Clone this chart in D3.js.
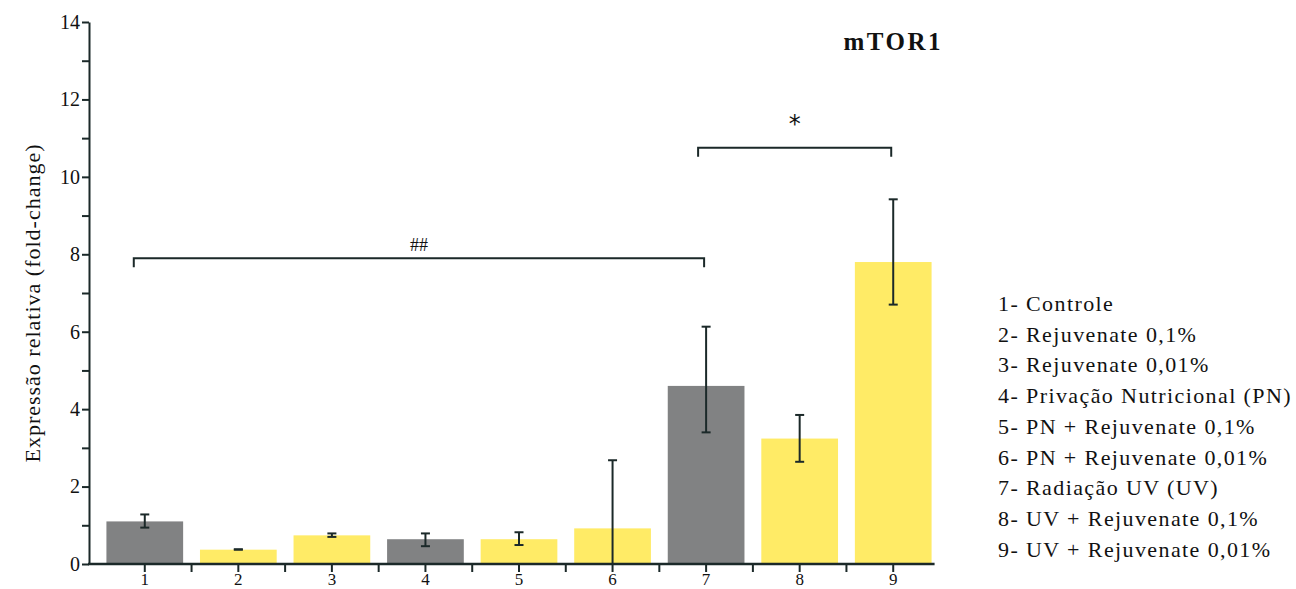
<!DOCTYPE html>
<html>
<head>
<meta charset="utf-8">
<script src="https://cdn.jsdelivr.net/npm/d3@7"></script>
<style>
  body { margin: 0; background: #fff; }
  text { font-family: "Liberation Serif", "Times New Roman", serif; fill: #111; }
</style>
</head>
<body>
<div id="chart-area"></div>
<script>
// data
let groups = ["1", "2", "3", "4", "5", "6", "7", "8", "9"];
let means = [1.1, 0.37, 0.74, 0.64, 0.64, 0.92, 4.6, 3.24, 7.8];
let errLow = [0.94, 0.37, 0.7, 0.46, 0.49, 0, 3.4, 2.64, 6.7];
let errHigh = [1.28, 0.38, 0.79, 0.79, 0.82, 2.68, 6.13, 3.85, 9.42];
let groupKind = ["c", "t", "t", "c", "t", "t", "c", "t", "t"];
let legendLabels = [
  "1- Controle",
  "2- Rejuvenate 0,1%",
  "3- Rejuvenate 0,01%",
  "4- Privação Nutricional (PN)",
  "5- PN + Rejuvenate 0,1%",
  "6- PN + Rejuvenate 0,01%",
  "7- Radiação UV (UV)",
  "8- UV + Rejuvenate 0,1%",
  "9- UV + Rejuvenate 0,01%"
];
let yTicks = d3.range(0, 15, 1);
let brackets = [
  { from: "1", to: "7", level: 7.9, label: "##" },
  { from: "7", to: "9", level: 10.75, label: "*" }
];

let W = 1296, H = 589;
let axisColor = "#1b2929";
let serif = "'Liberation Serif', 'Times New Roman', serif";

let svg = d3.select("#chart-area").append("svg")
  .attr("width", W)
  .attr("height", H);

let y = d3.scaleLinear().domain([0, 14]).range([564, 22]);
let x = d3.scaleBand()
  .domain(groups)
  .range([98, 940])
  .paddingInner(0.18)
  .paddingOuter(0.09);

let color = d3.scaleOrdinal().domain(["c", "t"]).range(["#818283", "#ffeb66"]);

let rows = groups.map((g, i) => ({
  g: g, mean: means[i], lo: errLow[i], hi: errHigh[i], kind: groupKind[i]
}));

// bars
svg.append("g")
  .selectAll("rect")
  .data(rows)
  .enter()
  .append("rect")
  .attr("x", d => x(d.g))
  .attr("width", x.bandwidth())
  .attr("y", d => y(d.mean))
  .attr("height", d => y(0) - y(d.mean))
  .attr("fill", d => color(d.kind));

// error bars
let eb = svg.append("g")
  .attr("stroke", axisColor)
  .attr("stroke-width", 2);
let cx = d => x(d.g) + x.bandwidth() / 2;
eb.selectAll("line.v").data(rows).enter().append("line")
  .attr("class", "v")
  .attr("x1", cx).attr("x2", cx)
  .attr("y1", d => y(d.lo)).attr("y2", d => y(d.hi));
eb.selectAll("line.top").data(rows).enter().append("line")
  .attr("class", "top")
  .attr("x1", d => cx(d) - 4.5).attr("x2", d => cx(d) + 4.5)
  .attr("y1", d => y(d.hi)).attr("y2", d => y(d.hi));
eb.selectAll("line.bot").data(rows.filter(d => d.lo > 0)).enter().append("line")
  .attr("class", "bot")
  .attr("x1", d => cx(d) - 4.5).attr("x2", d => cx(d) + 4.5)
  .attr("y1", d => y(d.lo)).attr("y2", d => y(d.lo));

// y axis
let yAxis = d3.axisLeft(y)
  .tickValues(yTicks)
  .tickSize(7)
  .tickSizeOuter(0)
  .tickPadding(2)
  .tickFormat(d => (d % 2 === 0 ? d : ""));

let yG = svg.append("g")
  .attr("transform", "translate(89,0)")
  .call(yAxis)
  .attr("font-family", serif)
  .attr("font-size", 20);
yG.selectAll("path, line").attr("stroke", axisColor).attr("stroke-width", 2);
yG.selectAll("text").attr("fill", "#111");

// x axis (labels sit at the bottom edge, as in the source figure)
let xAxis = d3.axisBottom(x).tickSize(8).tickPadding(1);
let xG = svg.append("g")
  .attr("transform", "translate(0,564)")
  .call(xAxis)
  .attr("font-family", serif)
  .attr("font-size", 17);
xG.select(".domain").remove();
xG.selectAll("line").attr("stroke", axisColor).attr("stroke-width", 2);
xG.selectAll("text").attr("fill", "#111").attr("dy", "0.68em");

// boundary ticks between groups
let step = x.step();
let bounds = groups.slice(1).map(g => x(g) - step * x.paddingInner() / 2);
xG.selectAll("line.bound").data(bounds).enter().append("line")
  .attr("class", "bound")
  .attr("x1", d => d).attr("x2", d => d)
  .attr("y1", 0).attr("y2", 8)
  .attr("stroke", axisColor).attr("stroke-width", 2);

xG.append("line")
  .attr("x1", 88).attr("x2", x("9") + x.bandwidth() + 3)
  .attr("y1", 0).attr("y2", 0)
  .attr("stroke", axisColor).attr("stroke-width", 2.5);

// y label
svg.append("text")
  .attr("transform", "translate(40," + (y(7) + 10) + ") rotate(-90)")
  .attr("text-anchor", "middle")
  .style("font-size", "22px")
  .style("letter-spacing", "1px")
  .text("Expressão relativa (fold-change)");

// title
svg.append("text")
  .attr("x", x("9") + x.bandwidth() / 2)
  .attr("y", 50)
  .attr("text-anchor", "middle")
  .style("font-size", "25px")
  .style("font-weight", "bold")
  .style("letter-spacing", "2.5px")
  .text("mTOR1");

// significance brackets
brackets.forEach(b => {
  let x1 = x(b.from) + x.bandwidth() / 2 - (b.from === "1" ? 11 : 8);
  let x2 = x(b.to) + x.bandwidth() / 2 - 2;
  let yy = y(b.level);
  svg.append("path")
    .attr("d", "M" + x1 + "," + (yy + 9) + "V" + yy + "H" + x2 + "V" + (yy + 9))
    .attr("fill", "none")
    .attr("stroke", axisColor)
    .attr("stroke-width", 2);
  svg.append("text")
    .attr("x", (x1 + x2) / 2)
    .attr("y", b.label === "*" ? yy - 16 : yy - 7)
    .attr("text-anchor", "middle")
    .style("font-family", b.label === "*" ? "'DejaVu Sans', sans-serif" : serif)
    .style("font-size", b.label === "*" ? "24px" : "18px")
    .text(b.label);
});

// legend
svg.append("g")
  .selectAll("text")
  .data(legendLabels)
  .enter()
  .append("text")
  .attr("x", 998)
  .attr("y", (d, i) => 311 + i * 30.7)
  .style("font-size", "22px")
  .style("letter-spacing", "1.4px")
  .text(d => d);
</script>
</body>
</html>
